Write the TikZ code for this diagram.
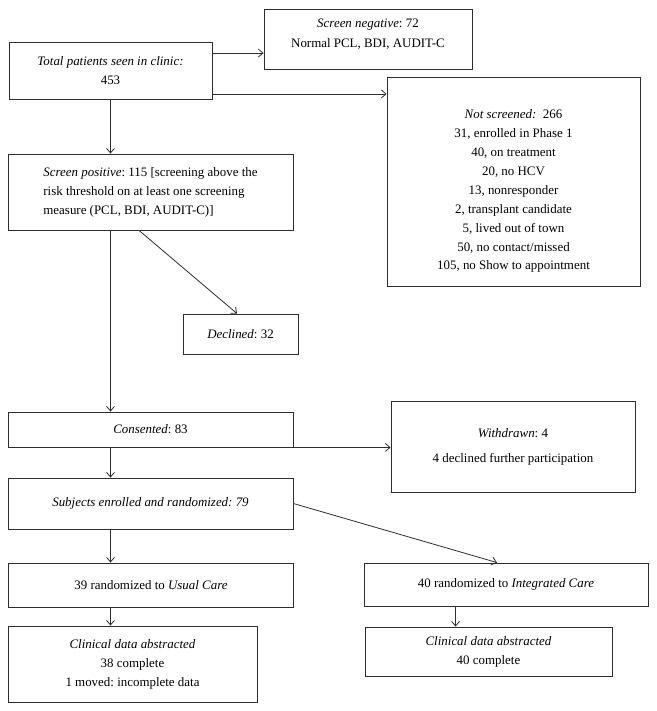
\documentclass[tikz,border=0pt]{standalone}
\usepackage{fontspec}
\setmainfont{Liberation Serif}
\usetikzlibrary{arrows.meta,positioning}
\definecolor{linegray}{RGB}{45,45,45}
\frenchspacing
\tikzset{
    % Flow box style
    box/.style={
        rectangle, draw=linegray, line width=0.65pt, fill=white,
        align=center, inner sep=2pt,
        font=\fontsize{9.7}{14.2}\selectfont
    },
    % Wide boxes of the left column
    widebox/.style={
        box, minimum width=213.75pt
    },
    % Flow arrows
    flowarrow/.style={
        -{Straight Barb[length=3.5pt,width=6pt]}, line width=0.6pt, color=linegray
    }
}
\begin{document}
\begin{tikzpicture}[x=0.75pt,y=-0.75pt]
\useasboundingbox (0,0) rectangle (657,711);

% Screening stage
\node[box, minimum width=152.25pt, minimum height=42.75pt] (total) at (110.5,70.5)
    {\textit{Total patients seen in clinic:}\\453};
\node[box, minimum width=156pt, minimum height=45pt] (neg) at (368,39)
    {\textit{Screen negative}: 72\\[0.8pt]Normal PCL, BDI, AUDIT-C\\[-5pt]\mbox{}};
\node[box, minimum width=189.75pt, minimum height=156.75pt] (notscr) at (513.5,181.5)
    {\mbox{}\\[7pt]\textit{Not screened:} \ 266\\31, enrolled in Phase 1\\40, on treatment\\20, no HCV\\
     13, nonresponder\\2, transplant candidate\\5, lived out of town\\50, no contact/missed\\
     105, no Show to appointment};
\node[widebox, align=left, minimum height=57pt] (pos) at (150.5,192)
    {\textit{Screen positive}: 115 [screening above the\\risk threshold on at least one screening\\measure (PCL, BDI, AUDIT-C)]};
\node[box, minimum width=86.25pt, minimum height=30pt] (declined) at (240.5,334)
    {\textit{Declined}: 32};

% Enrolment stage
\node[widebox, minimum height=26.25pt] (consent) at (150.5,429.5) {\textit{Consented}: 83};
\node[box, minimum width=183pt, minimum height=68.25pt] (withdrawn) at (513,446.5)
    {\textit{Withdrawn}: 4\\[4.5pt]4 declined further participation};
\node[widebox, minimum height=38.25pt] (enrolled) at (150.5,503.5)
    {\textit{Subjects enrolled and randomized: 79}};

% Randomized arms
\node[widebox, minimum height=33pt] (usual) at (151,585) {39 randomized to \textit{Usual Care}};
\node[box, minimum width=213pt, minimum height=32.25pt] (integ) at (506,584.5)
    {40 randomized to \textit{Integrated Care}};
\node[box, minimum width=186.75pt, minimum height=57pt] (datausual) at (132.5,664)
    {\textit{Clinical data abstracted}\\38 complete\\1 moved: incomplete data};
\node[box, minimum width=185.25pt, minimum height=36.75pt] (datainteg) at (488.5,651.5)
    {\textit{Clinical data abstracted}\\40 complete};

% Connectors
\draw[flowarrow] ([yshift=13.1pt]total.east) -- ([yshift=13.1pt]total.east -| neg.west);
\draw[flowarrow] ([yshift=-17.6pt]total.east) -- ([yshift=-17.6pt]total.east -| notscr.west);
\draw[flowarrow] (total.south) -- (total.south |- pos.north);
\draw[flowarrow] ([xshift=-8.6pt]pos.south) -- ([xshift=-2.6pt]declined.north);
\draw[flowarrow] (total.south |- pos.south) -- (total.south |- consent.north);
\draw[flowarrow] (consent.south east) -- (consent.south east -| withdrawn.west);
\draw[flowarrow] (total.south |- consent.south) -- (total.south |- enrolled.north);
\draw[flowarrow] (enrolled.east) -- ([xshift=-6.75pt]integ.north);
\draw[flowarrow] (total.south |- enrolled.south) -- (total.south |- usual.north);
\draw[flowarrow] (total.south |- usual.south) -- (total.south |- datausual.north);
\draw[flowarrow] ([xshift=69pt]integ.south west) -- ([xshift=69pt]integ.south west |- datainteg.north);

\end{tikzpicture}
\end{document}
